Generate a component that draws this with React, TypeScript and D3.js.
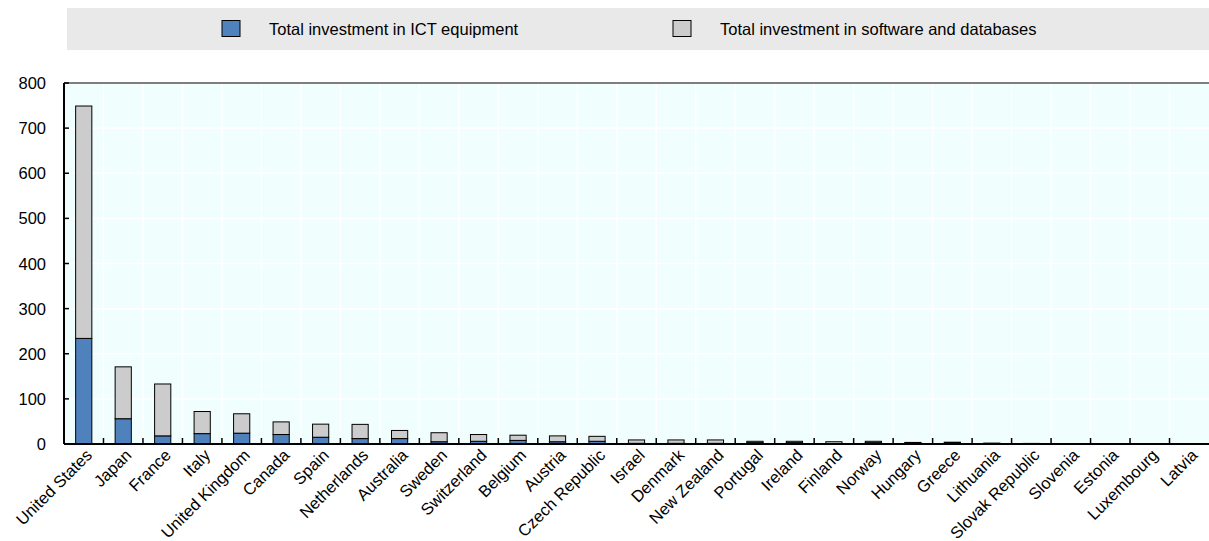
import { useMemo } from "react";
import * as d3 from "d3";

const WIDTH = 1209;
const HEIGHT = 541;
const MARGIN = { top: 83, right: 0, bottom: 97, left: 64 };
const FONT = "'Liberation Sans', Arial, sans-serif";

const countries = [
  "United States", "Japan", "France", "Italy", "United Kingdom", "Canada", "Spain",
  "Netherlands", "Australia", "Sweden", "Switzerland", "Belgium", "Austria",
  "Czech Republic", "Israel", "Denmark", "New Zealand", "Portugal", "Ireland",
  "Finland", "Norway", "Hungary", "Greece", "Lithuania", "Slovak Republic",
  "Slovenia", "Estonia", "Luxembourg", "Latvia",
];

// ICT equipment (bottom segment)
const ictEquipment = [
  234, 56, 18, 23, 24, 21, 15, 12, 12, 5, 6, 8, 5, 6, 1.5, 1.5, 1.5, 3, 3, 1, 3, 2, 2,
  0.5, 0.5, 0.3, 0.3, 0.3, 0.3,
];

// Software and databases (top segment)
const softwareDb = [
  515, 115, 115, 49, 43, 28, 29, 31.5, 18, 20, 15, 11.5, 13, 11, 7.5, 7.5, 7.5, 3, 3, 4,
  3, 1.5, 2, 1.5, 0.8, 0.5, 0.5, 0.6, 0.5,
];

const yTicks = [0, 100, 200, 300, 400, 500, 600, 700, 800];

const seriesNames = ["Total investment in ICT equipment", "Total investment in software and databases"];
const seriesColors = ["#4f81bd", "#cccccc"];

export default function App() {
  const boundsWidth = WIDTH - MARGIN.left - MARGIN.right;
  const boundsHeight = HEIGHT - MARGIN.top - MARGIN.bottom;

  const xScale = useMemo(
    () => d3.scaleBand().domain(countries).range([0, boundsWidth]).paddingInner(0.59).paddingOuter(0.295),
    [boundsWidth]
  );
  const yScale = useMemo(() => d3.scaleLinear().domain([0, 800]).range([boundsHeight, 0]), [boundsHeight]);

  const step = xScale.step();
  const band0 = xScale(countries[0]) ?? 0;
  const offset = band0 - (step - xScale.bandwidth()) / 2;

  // category boundaries
  const boundaries = countries.map((_, i) => offset + step * i).slice(1);

  const rows = countries.map((c, i) => ({ name: c, ict: ictEquipment[i], sw: softwareDb[i] }));
  const stack = d3.stack<{ name: string; ict: number; sw: number }>().keys(["ict", "sw"])(rows);

  return (
    <svg width={WIDTH} height={HEIGHT} style={{ position: "absolute", top: 0, left: 0 }} fontFamily={FONT}>
      {/* legend */}
      <rect x={67} y={8} width={WIDTH - 67} height={42} fill="#e9e9e9" />
      {seriesNames.map((s, i) => {
        const lx = i === 0 ? 222 : 673;
        return (
          <g key={s}>
            <rect x={lx} y={20.5} width={18} height={16} fill={seriesColors[i]} stroke="#000" strokeWidth={1} />
            <text x={lx + 47} y={29} dominantBaseline="central" fontSize={16.5} fill="#000">
              {s}
            </text>
          </g>
        );
      })}

      <g transform={`translate(${MARGIN.left},${MARGIN.top})`}>
        <rect x={0} y={0} width={boundsWidth} height={boundsHeight} fill="#f0fefe" />
        {yTicks.slice(1, -1).map((t) => (
          <line key={t} x1={0} x2={boundsWidth} y1={yScale(t)} y2={yScale(t)} stroke="#fff" strokeWidth={1.5} />
        ))}
        {boundaries.map((b, i) => (
          <line key={i} x1={b} x2={b} y1={0} y2={boundsHeight} stroke="#fff" strokeWidth={1.5} />
        ))}

        {/* bars */}
        {stack.map((layer, li) =>
          layer.map((d, i) => {
            const x = xScale(countries[i]);
            if (x === undefined) return null;
            return (
              <rect
                key={`${li}-${i}`}
                x={x}
                y={yScale(d[1])}
                width={xScale.bandwidth()}
                height={yScale(d[0]) - yScale(d[1])}
                fill={seriesColors[li]}
                stroke="#000"
                strokeWidth={1}
              />
            );
          })
        )}

        {/* top border */}
        <line x1={0} x2={boundsWidth} y1={0} y2={0} stroke="#555" strokeWidth={1.5} />

        {/* y axis */}
        <line x1={0} x2={0} y1={0} y2={boundsHeight} stroke="#000" strokeWidth={2} />
        {yTicks.map((t) => (
          <g key={t}>
            <line x1={0} x2={5} y1={yScale(t)} y2={yScale(t)} stroke="#000" strokeWidth={1.5} />
            <text x={-18} y={yScale(t)} textAnchor="end" dominantBaseline="central" fontSize={16.5} fill="#000">
              {t}
            </text>
          </g>
        ))}

        {/* x axis */}
        <line x1={0} x2={boundsWidth} y1={boundsHeight} y2={boundsHeight} stroke="#000" strokeWidth={2} />
        {boundaries.map((b, i) => (
          <line key={i} x1={b} x2={b} y1={boundsHeight - 6} y2={boundsHeight} stroke="#000" strokeWidth={1.5} />
        ))}
        {countries.map((c) => {
          const cx = (xScale(c) ?? 0) + xScale.bandwidth() / 2;
          return (
            <text
              key={c}
              transform={`translate(${cx + 5},${boundsHeight + 8}) rotate(-45)`}
              textAnchor="end"
              dominantBaseline="central"
              fontSize={16.5}
              fill="#000"
            >
              {c}
            </text>
          );
        })}
      </g>
    </svg>
  );
}
